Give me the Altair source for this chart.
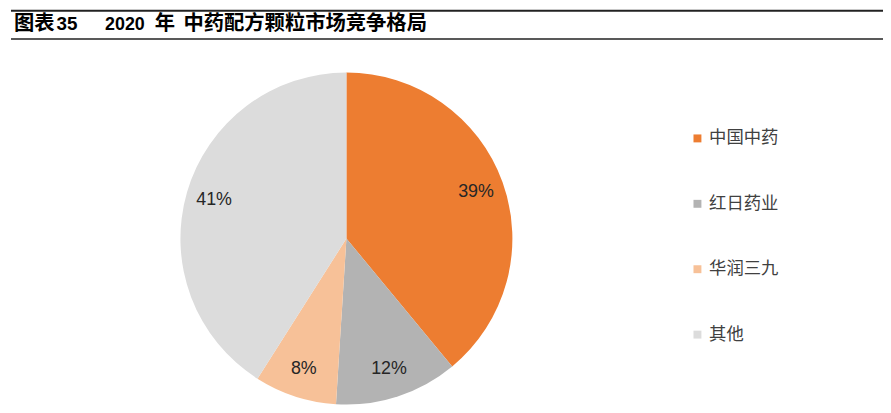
import altair as alt
import pandas as pd

names = ["中国中药", "红日药业", "华润三九", "其他"]
values = [39, 12, 8, 41]
labels = ["39%", "12%", "8%", "41%"]
colors = ["#ED7D31", "#B3B3B3", "#F7C198", "#DCDCDC"]
title_parts = ["图表", "35", "2020", "年", "中药配方颗粒市场竞争格局"]
title_x = [6, 49, 98, 148, 177]
title_size = [20.5, 19, 18, 20.5, 20.5]

df = pd.DataFrame({"name": names, "value": values, "label": labels, "idx": list(range(len(names)))})

CX, CY = 341.5, 230.8

base = alt.Chart(df).encode(
    theta=alt.Theta("value:Q", stack=True),
    order=alt.Order("idx:Q"),
)

arc = base.mark_arc(outerRadius=167.5, x=CX, y=CY, strokeWidth=0).encode(
    color=alt.Color(
        "name:N",
        scale=alt.Scale(domain=names, range=colors),
        sort=names,
        legend=alt.Legend(
            title=None,
            orient="none",
            legendX=687,
            legendY=121,
            direction="vertical",
            symbolType="square",
            symbolSize=64,
            symbolStrokeWidth=0,
            labelFont="Noto Sans CJK SC",
            labelFontSize=17.5,
            labelColor="#404040",
            rowPadding=47,
            labelOffset=3,
            padding=0,
        ),
    )
)

text = base.mark_text(radius=139, x=CX, y=CY, font="Liberation Sans", fontSize=18, color="#262626").encode(
    text="label:N",
    detail="name:N",
)

tdf = pd.DataFrame({"t": title_parts, "x": title_x, "s": title_size})
title = alt.Chart(tdf).mark_text(
    align="left", baseline="alphabetic", font="Liberation Sans, Noto Sans CJK SC",
    fontWeight="bold", color="#000000", y=20.5
).encode(
    text="t:N",
    x=alt.X("x:Q", scale=None),
    size=alt.Size("s:Q", scale=None, legend=None),
)

ldf = pd.DataFrame({"y": [1, 29.5], "w": [2, 1.5]})
lines = alt.Chart(ldf).mark_rule(color="#222222").encode(
    x=alt.value(3), x2=alt.value(883),
    y=alt.Y("y:Q", scale=None),
    strokeWidth=alt.StrokeWidth("w:Q", scale=None, legend=None),
)

chart = alt.layer(arc, text, title, lines).properties(
    width=883, height=405, autosize=alt.AutoSizeParams(type="none"), padding=0
).configure_view(stroke=None)

chart.save("out.html", embed_options={"renderer": "svg", "actions": False})
